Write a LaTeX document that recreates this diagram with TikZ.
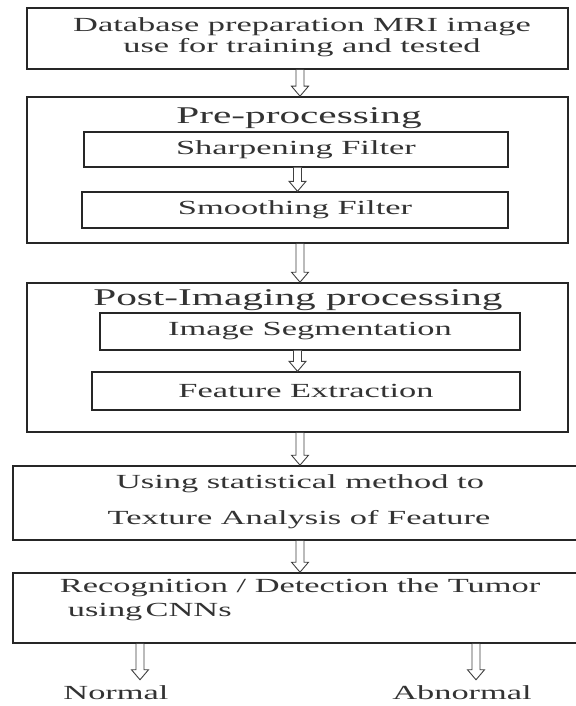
\documentclass[tikz,border=0pt]{standalone}
\usepackage{fontspec}
\setmainfont{Liberation Serif}[FakeStretch=1.72]
\usetikzlibrary{calc}
\tikzset{
  box/.style={draw=black!85, line width=1.6pt, rectangle, inner sep=0pt, fill=white},
  inbox/.style={box, line width=1.4pt, font=\fontsize{20}{21}\selectfont, text=black!80},
  txt/.style={inner sep=0pt, text=black!80, font=\fontsize{20}{21}\selectfont},
  ttl/.style={inner sep=0pt, text=black!80, font=\fontsize{24}{26}\selectfont},
  bigarrow/.style={draw=black!75, line width=0.9pt, fill=white,
    to path={let \p1=(\tikztostart), \p2=(\tikztotarget) in
      (\x1-4pt,\y1) -- (\x1-4pt,\y2+10pt) -- (\x1-8.5pt,\y2+10pt) -- (\x1,\y2)
      -- (\x1+8.5pt,\y2+10pt) -- (\x1+4pt,\y2+10pt) -- (\x1+4pt,\y1)}}
}
\begin{document}
\begin{tikzpicture}[x=1pt,y=-1pt]
\useasboundingbox[fill=white] (0,0) rectangle (575,706);

% outer boxes
\node[box, minimum width=541pt, minimum height=61pt] (b1) at (297.5,38.5) {};
\node[box, minimum width=541pt, minimum height=146pt] (b2) at (297.5,170) {};
\node[box, minimum width=541pt, minimum height=149pt] (b3) at (297.5,357.5) {};
\node[box, minimum width=565pt, minimum height=74pt] (b4) at (295.5,503) {};
\node[box, minimum width=565pt, minimum height=70pt] (b5) at (295.5,608) {};

% inner boxes
\node[inbox, minimum width=424pt, minimum height=35pt] (s1) at (296,149.5) {Sharpening Filter};
\node[inbox, minimum width=426pt, minimum height=36pt] (s2) at (295,210) {Smoothing Filter};
\node[inbox, minimum width=420pt, minimum height=37pt] (s3) at (310,331.5) {Image Segmentation};
\node[inbox, minimum width=428pt, minimum height=38pt] (s4) at (306,391) {Feature Extraction};

% texts
\node[txt, align=center] (t1) at (302,37) {Database preparation MRI image\\use for training and tested};
\node[ttl] (t2) at (299,118) {Pre-processing};
\node[ttl] (t3) at (298,300) {Post-Imaging processing};
\node[txt] (t4a) at (300,484) {Using statistical method to};
\node[txt] (t4b) at (299,520) {Texture Analysis of Feature};
\node[txt, align=left, font=\fontsize{20}{24}\selectfont] (t5) at (300,600)
  {Recognition / Detection the Tumor\\\hspace{8pt}using\,CNNs};
\node[txt] (n) at (116,693) {Normal};
\node[txt] (ab) at (462,693) {Abnormal};

% connectors
\draw[bigarrow] (b1.south -| 300,0) to (b2.north -| 300,0);
\draw[bigarrow] (s1.south -| b2.center) to (s2.north -| b2.center);
\draw[bigarrow] (b2.south -| 300,0) to (b3.north -| 300,0);
\draw[bigarrow] (s3.south -| b3.center) to (s4.north -| b3.center);
\draw[bigarrow] (b3.south -| 300,0) to (b4.north -| 300,0);
\draw[bigarrow] (b4.south -| 300,0) to (b5.north -| 300,0);
\coordinate (na) at (140,643);
\coordinate (aa) at (476,643);
\draw[bigarrow] (b5.south -| na) to ($(n.north -| na)+(0,-6)$);
\draw[bigarrow] (b5.south -| aa) to ($(ab.north -| aa)+(0,-6)$);
\end{tikzpicture}
\end{document}
